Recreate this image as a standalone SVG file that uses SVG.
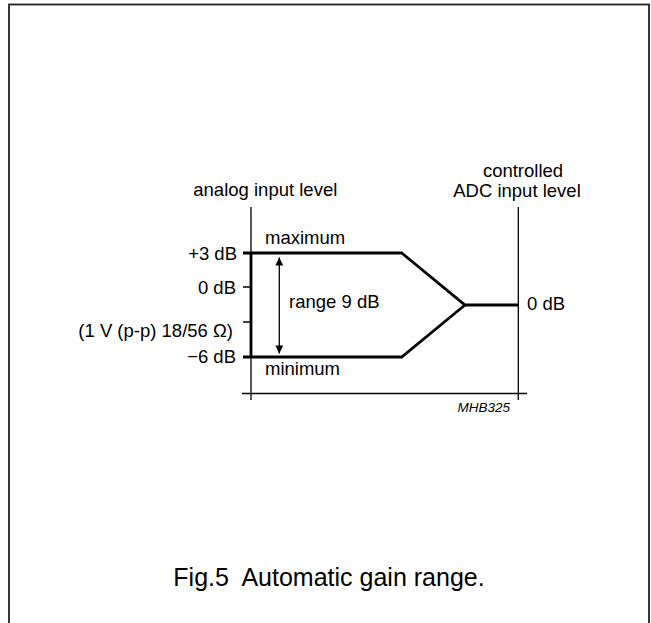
<svg xmlns="http://www.w3.org/2000/svg" width="651" height="623" viewBox="0 0 651 623">
<style>
text{font-family:"Liberation Sans",Arial,sans-serif;font-size:18.5px;fill:#000}
.thin{stroke:#000;stroke-width:1.3;fill:none}
.thick{stroke:#000;stroke-width:2.8;fill:none;stroke-linejoin:miter}
.end{text-anchor:end}
.mid{text-anchor:middle}
</style>
<defs>
<marker id="ah" viewBox="0 0 10 10" refX="10" refY="5" markerWidth="13" markerHeight="8" markerUnits="userSpaceOnUse" orient="auto-start-reverse">
<path d="M0,0 L10,5 L0,10 z" fill="#000"/>
</marker>
</defs>
<rect x="9" y="4.5" width="640" height="640" fill="#fff" stroke="#222" stroke-width="1.8"/>
<g id="axes">
<path class="thin" d="M251,207V400 M518.3,207V400 M242,393.5H527"/>
<path class="thin" d="M243,287H251 M243,322H251"/>
<path class="thick" d="M243,253H251 M243,357H251 M251,253V357"/>
</g>
<g id="connectors">
<path class="thin" d="M279.3,257.5V353.5" marker-start="url(#ah)" marker-end="url(#ah)"/>
<path class="thick" d="M251,253H401.7L465,305H518.3"/>
<path class="thick" d="M251,357H401.7L465,305"/>
</g>
<g id="labels">
<text x="193.3" y="195.7">analog input level</text>
<text class="mid" x="523" y="177">controlled</text>
<text class="mid" x="517" y="197">ADC input level</text>
<text x="265" y="244">maximum</text>
<text x="265" y="375">minimum</text>
<text class="end" x="237" y="260">+3 dB</text>
<text class="end" x="236" y="294">0 dB</text>
<text class="end" x="233" y="337">(1 V (p-p) 18/56 Ω)</text>
<text class="end" x="236" y="363">−6 dB</text>
<text x="289" y="308">range 9 dB</text>
<text x="527" y="310">0 dB</text>
<text class="end" x="510" y="412" style="font-size:13.5px;font-style:italic">MHB325</text>
<text class="mid" x="329" y="586" xml:space="preserve" style="font-size:25px;white-space:pre">Fig.5  Automatic gain range.</text>
</g>
</svg>
